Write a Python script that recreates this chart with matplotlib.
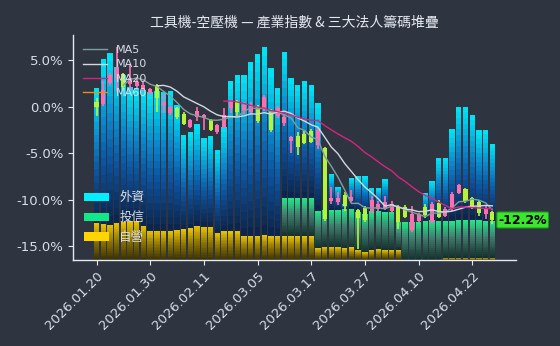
import numpy as np
import matplotlib
matplotlib.use("Agg")
import matplotlib.pyplot as plt
from matplotlib.colors import LinearSegmentedColormap
from matplotlib.patches import Patch
from matplotlib.ticker import FuncFormatter

# ---- data -------------------------------------------------------------
dates = [
    "2026.01.20", "2026.01.21", "2026.01.22", "2026.01.23", "2026.01.26",
    "2026.01.27", "2026.01.28", "2026.01.29", "2026.01.30", "2026.02.02",
    "2026.02.03", "2026.02.04", "2026.02.05", "2026.02.06", "2026.02.09",
    "2026.02.10", "2026.02.11", "2026.02.23", "2026.02.24", "2026.02.25",
    "2026.02.26", "2026.03.02", "2026.03.03", "2026.03.04", "2026.03.05",
    "2026.03.06", "2026.03.09", "2026.03.10", "2026.03.11", "2026.03.12",
    "2026.03.13", "2026.03.16", "2026.03.17", "2026.03.18", "2026.03.19",
    "2026.03.20", "2026.03.23", "2026.03.24", "2026.03.25", "2026.03.26",
    "2026.03.27", "2026.03.30", "2026.03.31", "2026.04.01", "2026.04.02",
    "2026.04.07", "2026.04.08", "2026.04.09", "2026.04.10", "2026.04.13",
    "2026.04.14", "2026.04.15", "2026.04.16", "2026.04.17", "2026.04.20",
    "2026.04.21", "2026.04.22", "2026.04.23", "2026.04.24", "2026.04.27",
]

# index candles, cumulative return in %
open_ = [0.5, 0.3, 2.5, 3.0, 3.5, 2.4, 2.2, 1.9, 1.5, 2.3,
         0.2, -0.7, -0.1, -0.75, -2.15, -1.1, -1.25, -1.4, -2.7, -2.15,
         -0.1, 0.55, -0.5, -0.6, 0.0, -0.2, -0.5, -1.0, -1.8, -3.65,
         -3.2, -2.9, -2.6, -4.1, -4.5, -10.2, -10.3, -9.5, -10.2, -11.1,
         -10.9, -11.2, -11.0, -11.0, -11.2, -10.75, -10.8, -13.3, -12.3, -10.75,
         -12.4, -10.4, -11.8, -11.0, -9.3, -8.9, -9.8, -10.3, -11.6, -11.3]
close = [0.0, 1.8, 3.4, 4.2, 2.1, 3.1, 2.6, 2.3, 1.9, 0.9,
         0.5, 0.0, -1.1, -1.9, -1.45, -0.5, -0.9, -2.5, -2.0, -0.9,
         0.6, -0.55, 0.2, 0.1, -1.6, 1.0, -2.5, -0.2, -1.1, -3.3,
         -4.3, -3.9, -3.8, -2.5, -12.1, -9.8, -9.8, -10.7, -9.7, -12.0,
         -12.2, -10.0, -10.5, -10.3, -10.5, -12.4, -11.9, -11.6, -11.6, -11.7,
         -10.5, -11.9, -11.0, -9.4, -8.4, -10.2, -10.8, -11.5, -10.9, -12.2]
high = [0.9, 2.8, 3.6, 6.4, 3.6, 4.6, 3.0, 2.6, 2.0, 2.4,
        1.3, 0.1, 0.0, -0.6, -1.3, 0.0, -0.8, -1.3, -1.9, -0.2,
        0.7, 0.7, 0.5, 0.5, 0.2, 1.2, -0.3, 0.1, -0.8, -3.2,
        -2.7, -2.6, -2.4, -2.3, -4.4, -8.6, -9.2, -9.2, -9.0, -11.0,
        -10.7, -9.6, -10.2, -9.6, -10.2, -10.6, -10.6, -10.7, -11.5, -10.5,
        -10.3, -10.1, -10.8, -9.2, -8.3, -8.8, -9.7, -10.0, -10.7, -11.2]
low = [-1.0, 0.1, 2.3, 1.6, 1.9, 1.8, 1.9, 1.7, 1.4, -0.6,
       -0.7, -0.9, -1.3, -2.0, -2.3, -1.6, -2.5, -2.6, -3.0, -2.3,
       -0.7, -1.0, -0.8, -0.8, -1.8, -0.5, -2.7, -1.2, -2.1, -5.0,
       -5.2, -4.0, -3.9, -4.6, -12.3, -10.5, -10.6, -11.2, -10.3, -15.3,
       -12.4, -11.4, -11.2, -11.1, -11.3, -13.2, -12.0, -13.5, -12.4, -12.0,
       -12.5, -12.0, -11.9, -11.2, -9.4, -10.4, -11.0, -11.8, -12.1, -12.6]

# institutional chip stack, cumulative levels on the same scale
dealer_top = [-12.55, -12.65, -12.7, -12.55, -12.4, -12.3, -12.3, -12.8, -13.35, -13.35,
              -13.35, -13.35, -13.25, -13.2, -13.1, -12.8, -12.9, -12.9, -13.6, -13.4,
              -13.4, -13.4, -13.9, -13.9, -13.9, -13.8, -13.9, -13.9, -13.9, -13.9,
              -13.9, -13.9, -13.9, -15.2, -15.05, -15.05, -15.05, -15.2, -15.15, -15.4,
              -15.65, -15.4, -15.3, -15.4, -15.4, -15.4, -16.5, -16.5, -16.5, -16.5,
              -16.5, -16.5, -16.25, -16.25, -16.25, -16.25, -16.25, -16.25, -16.25, -16.25]
trust_top = [-12.55, -12.65, -12.7, -12.55, -12.4, -12.3, -12.3, -12.8, -13.35, -13.35,
             -13.35, -13.35, -13.25, -13.2, -13.1, -12.8, -12.9, -12.9, -13.6, -13.4,
             -13.4, -13.4, -13.9, -13.9, -13.9, -13.8, -13.9, -13.9, -9.85, -9.85,
             -9.85, -9.85, -9.85, -11.2, -11.1, -11.1, -11.1, -11.0, -11.0, -11.3,
             -11.6, -11.2, -11.2, -11.3, -11.3, -12.4, -12.4, -12.4, -12.4, -12.3,
             -12.2, -12.3, -12.3, -12.3, -12.2, -12.2, -12.2, -12.2, -12.3, -12.3]
foreign_top = [2.0, 5.1, 5.8, 4.3, 3.4, 2.1, 2.0, 1.8, 1.6, 1.7,
               1.6, 1.7, 0.2, -3.1, -2.7, -1.9, -3.4, -3.15, -4.7, -2.2,
               2.7, 3.4, 3.4, 4.8, 5.7, 6.45, 4.1, 2.0, 5.9, 3.05,
               2.3, 2.7, 2.3, 0.4, -11.1, -7.2, -8.6, -10.5, -7.7, -7.5,
               -7.5, -8.8, -8.8, -7.8, -11.3, -12.4, -12.4, -12.4, -12.4, -9.3,
               -8.0, -5.55, -5.55, -2.4, 0.0, 0.0, -0.9, -2.55, -2.5, -4.0]

chip_labels = ["外資", "投信", "自營"]
ma_windows = [5, 10, 20, 60]

# ---- style ------------------------------------------------------------
BG = "#2e3440"
FG = "#d8dee9"
SPINE = "#e5e9f0"
UP = "#ff6eb4"
DOWN = "#b4f53a"
MA_COLORS = ["#7f9f9f", "#d3d9e2", "#d6247e", "#e8900f"]
CHIP_COLORS = ["#00f0ff", "#10e88a", "#ffd400"]
Y_LIM = (-16.5, 7.7)

cmap_foreign = LinearSegmentedColormap.from_list(
    "foreign", [(0.0, "#0c2248"), (0.35, "#0a4f9c"), (0.62, "#0a86cc"),
                (0.85, "#00c4e6"), (1.0, "#00e8f6")])
cmap_trust = LinearSegmentedColormap.from_list(
    "trust", [(0.0, "#11302a"), (0.55, "#3e7c6c"), (1.0, "#22e88a")])
cmap_dealer = LinearSegmentedColormap.from_list(
    "dealer", [(0.0, "#3a3000"), (0.5, "#8a7200"), (1.0, "#ecc400")])

fig = plt.figure(figsize=(5.6, 3.46), dpi=100, facecolor=BG)
ax = fig.add_axes([0.1304, 0.2486, 0.7907, 0.6503], facecolor=BG)

x = np.arange(len(dates))
o = np.array(open_)
c = np.array(close)
h = np.array(high)
l = np.array(low)
base = np.full(len(x), Y_LIM[0])
lvl_dealer = np.array(dealer_top)
lvl_trust = np.array(trust_top)
lvl_foreign = np.array(foreign_top)


def gradient_segment(bottom, top, cmap, steps=20, width=0.8):
    """Stacked bar segment shaded dark (bottom) to bright (top)."""
    span = np.clip(top - bottom, 0, None)
    step_h = span / steps
    for k in range(steps):
        ax.bar(x, step_h, bottom=bottom + k * step_h, width=width,
               color=cmap((k + 0.5) / steps), linewidth=0, zorder=1)


gradient_segment(base, lvl_dealer, cmap_dealer)
gradient_segment(lvl_dealer, lvl_trust, cmap_trust)
gradient_segment(lvl_trust, lvl_foreign, cmap_foreign)

# candlesticks
colors = np.where(c >= o, UP, DOWN)
ax.vlines(x, l, h, colors=colors, linewidth=1.2, zorder=3)
body_h = np.where(np.abs(c - o) < 0.12, 0.12 * np.sign(c - o + 1e-9), c - o)
ax.bar(x, body_h, bottom=o, width=0.6, color=colors, linewidth=0, zorder=3)

# moving averages
closes = np.array(close)
for w, col in zip(ma_windows, MA_COLORS):
    ma = np.full(len(closes), np.nan)
    if len(closes) >= w:
        ma[w - 1:] = np.convolve(closes, np.ones(w) / w, mode="valid")
    ax.plot(x, ma, color=col, linewidth=1.0, zorder=4, label=f"MA{w}")

# last close tag
ax.text(x[-1] + 0.9, closes[-1], f"{closes[-1]:.1f}%", ha="left", va="center",
        fontsize=9, fontweight="bold", color="black", zorder=6, clip_on=False,
        bbox=dict(boxstyle="round,pad=0.12", fc="#3be62f", ec="#1c9c1c", lw=0.8))

# axes
ax.set_xlim(-3.5, 62.5)
ax.set_ylim(*Y_LIM)
ax.set_yticks([-15, -10, -5, 0, 5])
ax.yaxis.set_major_formatter(FuncFormatter(lambda v, _: f"{v:.1f}%"))
ax.set_xticks(x[::8])
ax.set_xticklabels(dates[::8], rotation=45, ha="right", rotation_mode="anchor")
ax.tick_params(colors=SPINE, labelcolor=FG, labelsize=9.5, length=3.5, width=0.8)
for side in ("top", "right"):
    ax.spines[side].set_visible(False)
for side in ("left", "bottom"):
    ax.spines[side].set_color(SPINE)
    ax.spines[side].set_linewidth(1.0)

ax.set_title("工具機-空壓機 — 產業指數 & 三大法人籌碼堆疊", color="#e5e9f0",
             fontsize=10, family=["Noto Sans CJK TC", "DejaVu Sans"])

ma_leg = ax.legend(loc="upper left", fontsize=8, frameon=False, labelcolor=FG,
                   handlelength=2.2, labelspacing=0.4)
ma_leg.set_zorder(5)
ax.add_artist(ma_leg)

chip_handles = [Patch(facecolor=col, edgecolor="none") for col in CHIP_COLORS]
chip_leg = ax.legend(chip_handles, chip_labels, loc="lower left", frameon=False,
                     bbox_to_anchor=(0.0, 0.02),
                     prop={"family": ["Noto Sans CJK TC", "DejaVu Sans"], "size": 9},
                     labelcolor=FG, handlelength=2.0, labelspacing=0.55)
chip_leg.set_zorder(5)

fig.savefig("out.png", dpi=100, facecolor=BG)
